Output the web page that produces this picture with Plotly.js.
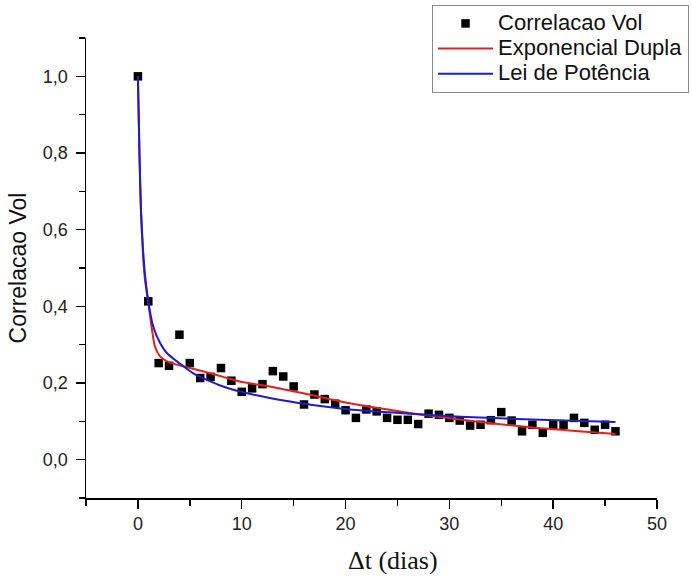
<!DOCTYPE html>
<html>
<head>
<meta charset="utf-8">
<script src="https://cdn.plot.ly/plotly-3.0.1.min.js"></script>
<style>html,body{margin:0;padding:0;background:#fff;}</style>
</head>
<body>
<div id="chart" style="width:692px;height:576px;"></div>
<script>
// Measured data points (Correlacao Vol)
const dataX = [0,1,2,3,4,5,6,7,8,9,10,11,12,13,14,15,16,17,18,19,20,21,22,23,24,25,26,27,28,29,30,31,32,33,34,35,36,37,38,39,40,41,42,43,44,45,46];
const dataY = [1.0,0.413,0.252,0.245,0.326,0.252,0.213,0.216,0.239,0.206,0.177,0.186,0.197,0.231,0.217,0.191,0.144,0.170,0.158,0.146,0.129,0.109,0.131,0.126,0.109,0.104,0.104,0.093,0.120,0.117,0.109,0.102,0.089,0.091,0.103,0.124,0.102,0.074,0.091,0.070,0.091,0.091,0.109,0.096,0.078,0.091,0.074];

// Fitted curve "Exponencial Dupla"
const expX = [0,0.15,0.3,0.5,0.7,1,1.31,1.63,2.12,2.76,3.72,4.36,5.3,6.6,8.2,9.8,12.7,16.5,20.4,26.2,31.6,38,46];
const expY = [1.0,0.79,0.64,0.53,0.465,0.41,0.348,0.296,0.270,0.257,0.248,0.244,0.237,0.228,0.216,0.204,0.191,0.170,0.147,0.122,0.103,0.084,0.067];

// Fitted curve "Lei de Potência"
const powX = [0,0.15,0.3,0.5,0.7,1,1.47,2.12,2.76,3.72,4.36,5.3,6.6,8.2,9.8,12.7,16.5,20.4,26.2,31.6,38,46];
const powY = [1.0,0.80,0.65,0.545,0.478,0.413,0.348,0.305,0.279,0.257,0.244,0.226,0.209,0.191,0.178,0.161,0.144,0.131,0.120,0.111,0.105,0.098];

const seriesNames = ["Correlacao Vol", "Exponencial Dupla", "Lei de Potência"];
const xTitle = "Δt (dias)";
const yTitle = "Correlacao Vol";

const big = s => '<span style="font-size:22px">' + s + '</span>';

const traces = [
  {x: dataX, y: dataY, type: 'scatter', mode: 'markers', name: big(seriesNames[0]),
   marker: {symbol: 'square', size: 8.5, color: '#000'}},
  {x: expX, y: expY, type: 'scatter', mode: 'lines', name: big(seriesNames[1]),
   line: {color: '#e3201b', width: 2, shape: 'spline', smoothing: 0.6}},
  {x: powX, y: powY, type: 'scatter', mode: 'lines', name: big(seriesNames[2]),
   line: {color: '#1c1ccc', width: 2, shape: 'spline', smoothing: 0.6}}
];

const tickFont = {family: 'Liberation Sans, Arial, sans-serif', size: 18, color: '#222'};

const layout = {
  width: 692, height: 576,
  margin: {l: 86, r: 35, t: 38, b: 78, autoexpand: false},
  paper_bgcolor: '#fff', plot_bgcolor: '#fff',
  separators: ', ',
  showlegend: true,
  legend: {
    x: 0.606, y: 1.072, xanchor: 'left', yanchor: 'top',
    xref: 'paper', yref: 'paper',
    bgcolor: '#fff', bordercolor: '#888', borderwidth: 1,
    font: {family: 'Liberation Sans, Arial, sans-serif', size: 17, color: '#111'},
    itemwidth: 55
  },
  xaxis: {
    range: [-5, 50], tick0: 0, dtick: 10,
    showline: true, linecolor: '#000', linewidth: 1.5,
    ticks: 'outside', ticklen: 9, tickwidth: 1.5, tickcolor: '#000',
    minor: {ticks: 'outside', ticklen: 6, tickwidth: 1.5, tickcolor: '#000', dtick: 5, tick0: 0, showgrid: false},
    showgrid: false, zeroline: false,
    tickfont: tickFont
  },
  yaxis: {
    range: [-0.1, 1.1], tick0: 0, dtick: 0.2, tickformat: '.1f',
    showline: true, linecolor: '#000', linewidth: 1.5,
    ticks: 'outside', ticklen: 9, tickwidth: 1.5, tickcolor: '#000',
    minor: {ticks: 'outside', ticklen: 6, tickwidth: 1.5, tickcolor: '#000', dtick: 0.1, tick0: 0, showgrid: false},
    showgrid: false, zeroline: false,
    tickfont: tickFont, ticklabelstandoff: 4,
    title: {text: yTitle, font: {family: 'Liberation Sans, Arial, sans-serif', size: 23, color: '#111'}, standoff: 10}
  },
  annotations: [{
    text: xTitle, xref: 'paper', yref: 'paper', x: 0.538, y: -0.1348,
    xanchor: 'center', yanchor: 'middle', showarrow: false,
    font: {family: 'Liberation Serif, Times New Roman, serif', size: 26, color: '#111'}
  }]
};

Plotly.newPlot('chart', traces, layout, {displayModeBar: false, staticPlot: true});
</script>
</body>
</html>
